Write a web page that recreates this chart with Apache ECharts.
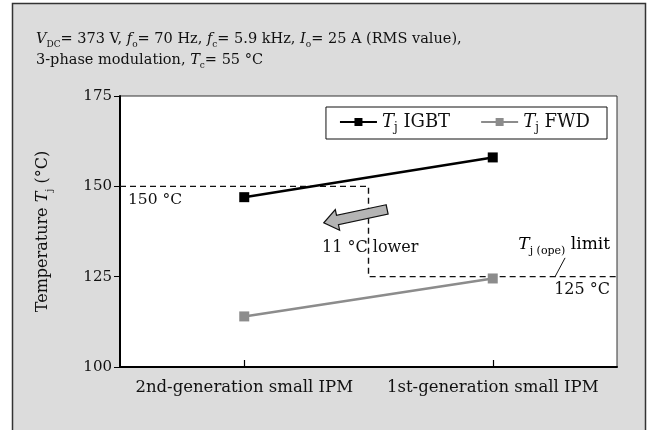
<!DOCTYPE html>
<html>
<head>
<meta charset="utf-8">
<script src="https://cdn.jsdelivr.net/npm/echarts@6/dist/echarts.min.js"></script>
<style>
  html, body { margin: 0; padding: 0; background: #fff; }
  #chart-container { width: 652px; height: 430px; }
</style>
</head>
<body>
<div id="chart-container"></div>
<script>
var categories = ["2nd-generation small IPM", "1st-generation small IPM"];
var igbt = [147, 158];
var fwd = [114, 124.5];
var yTicks = [100, 175, 25];
// limit path: x in category units (0 = 1st category, 1 = 2nd)
var limitX = [-0.5, 0.5, 0.5, 1.5];
var limitY = [150, 150, 125, 125];

var FONT = "DejaVu Serif";
var dom = document.getElementById("chart-container");
var myChart = echarts.init(dom, null, { renderer: "canvas" });

function makeRich(size) {
  return {
    i: { fontFamily: FONT, fontStyle: "italic", fontWeight: "normal", fontSize: size, color: "#111" },
    s: { fontFamily: FONT, fontWeight: "normal", fontSize: Math.round(size * 0.65), color: "#111", verticalAlign: "bottom", lineHeight: size + 6 },
    n: { fontFamily: FONT, fontWeight: "normal", fontSize: size, color: "#111" }
  };
}
var richTitle = makeRich(14.5);
var rich16 = makeRich(16);

var option = {
  animation: false,
  title: {
    left: 31,
    top: 24,
    text: "{i|V}{s|DC}{n|= 373 V, }{i|f}{s|o}{n|= 70 Hz, }{i|f}{s|c}{n|= 5.9 kHz, }{i|I}{s|o}{n|= 25 A (RMS value),}\n{n|3-phase modulation, }{i|T}{s|c}{n|= 55 °C}",
    textStyle: { rich: richTitle, lineHeight: 16, fontWeight: "normal" }
  },
  legend: {
    data: ["IGBT", "FWD"],
    right: 45,
    top: 107,
    padding: [6, 17, 5, 13],
    itemGap: 30,
    itemWidth: 37,
    itemHeight: 10,
    backgroundColor: "#fff",
    borderColor: "#111",
    borderWidth: 1,
    formatter: function (name) {
      return "{i|T}{s|j}{n| " + name + "}";
    },
    textStyle: { rich: makeRich(18) }
  },
  grid: {
    left: 120, top: 96, right: 35, bottom: 63,
    show: true, backgroundColor: "#fff", borderColor: "#333", borderWidth: 1
  },
  xAxis: [
    {
      type: "category",
      data: categories,
      axisLine: { lineStyle: { color: "#000", width: 2 } },
      axisTick: { show: true, interval: 0, alignWithLabel: true, inside: true, length: 7, lineStyle: { color: "#000", width: 1.2 } },
      axisLabel: { interval: 0, fontFamily: FONT, fontSize: 16.5, color: "#111", margin: 12 }
    },
    { type: "value", min: -0.5, max: 1.5, show: false }
  ],
  yAxis: {
    type: "value",
    min: yTicks[0],
    max: yTicks[1],
    interval: yTicks[2],
    name: "{n|Temperature }{i|T}{s|j}{n| (°C)}",
    nameLocation: "middle",
    nameGap: 66,
    nameTextStyle: { rich: rich16 },
    axisLine: { show: true, onZero: false, lineStyle: { color: "#000", width: 2 } },
    axisTick: { show: true, length: 6, lineStyle: { color: "#000" } },
    axisLabel: { fontFamily: FONT, fontSize: 15, color: "#111", margin: 8 },
    splitLine: { show: false }
  },
  series: [
    {
      name: "IGBT",
      type: "line",
      data: igbt,
      color: "#000",
      symbol: "rect",
      symbolSize: 10,
      lineStyle: { width: 2.5 },
      z: 5
    },
    {
      name: "FWD",
      type: "line",
      data: fwd,
      color: "#8c8c8c",
      symbol: "rect",
      symbolSize: 10,
      lineStyle: { width: 2.5 },
      z: 5
    },
    {
      name: "limit",
      type: "line",
      xAxisIndex: 1,
      data: limitX.map(function (x, k) { return [x, limitY[k]]; }),
      symbol: "none",
      color: "#111",
      lineStyle: { width: 1.4, type: [6, 4] },
      z: 3
    }
  ]
};
myChart.setOption(option);

function px(x, y) {
  return myChart.convertToPixel({ xAxisIndex: 1, yAxisIndex: 0 }, [x, y]);
}

function arrowPoints(tail, head, shaft, headW, headL) {
  var dx = head[0] - tail[0], dy = head[1] - tail[1];
  var len = Math.sqrt(dx * dx + dy * dy);
  var ux = dx / len, uy = dy / len, nx = -uy, ny = ux;
  var bx = head[0] - ux * headL, by = head[1] - uy * headL;
  return [
    [tail[0] + nx * shaft, tail[1] + ny * shaft],
    [bx + nx * shaft, by + ny * shaft],
    [bx + nx * headW, by + ny * headW],
    head,
    [bx - nx * headW, by - ny * headW],
    [bx - nx * shaft, by - ny * shaft],
    [tail[0] - nx * shaft, tail[1] - ny * shaft]
  ];
}

var p150 = px(-0.468, 146.2);
var pLower = px(0.313, 132.9);
var p125 = px(1.472, 121.3);
var pLimit = px(1.472, 133.8);
var lead1 = px(1.291, 130.2);
var lead2 = px(1.25, 124.9);
var aTail = px(0.575, 143.6);
var aHead = px(0.32, 139.9);

myChart.setOption({
  graphic: [
    {
      type: "rect", z: -10, silent: true,
      shape: { x: 12.5, y: 3.5, width: 633, height: 440 },
      style: { fill: "#dcdcdc", stroke: "#333", lineWidth: 1.5 }
    },
    {
      type: "text", x: p150[0], y: p150[1], z: 10,
      style: { text: "150 °C", font: "15.5px " + FONT, fill: "#111", verticalAlign: "middle" }
    },
    {
      type: "text", x: pLower[0], y: pLower[1], z: 10,
      style: { text: "11 °C lower", font: "16px " + FONT, fill: "#111", verticalAlign: "middle" }
    },
    {
      type: "text", x: p125[0], y: p125[1], z: 10,
      style: { text: "125 °C", font: "16px " + FONT, fill: "#111", align: "right", verticalAlign: "middle" }
    },
    {
      type: "text", x: pLimit[0], y: pLimit[1], z: 10,
      style: {
        text: "{i|T}{s|j (ope)}{n| limit}",
        rich: makeRich(17), align: "right", verticalAlign: "middle"
      }
    },
    {
      type: "line", z: 10,
      shape: { x1: lead1[0], y1: lead1[1], x2: lead2[0], y2: lead2[1] },
      style: { stroke: "#111", lineWidth: 1 }
    },
    {
      type: "polygon", z: 10,
      shape: { points: arrowPoints(aTail, aHead, 4.8, 10.5, 14) },
      style: { fill: "#b4b4b4", stroke: "#111", lineWidth: 1.2 }
    }
  ]
});

window.addEventListener("resize", myChart.resize);
</script>
</body>
</html>
